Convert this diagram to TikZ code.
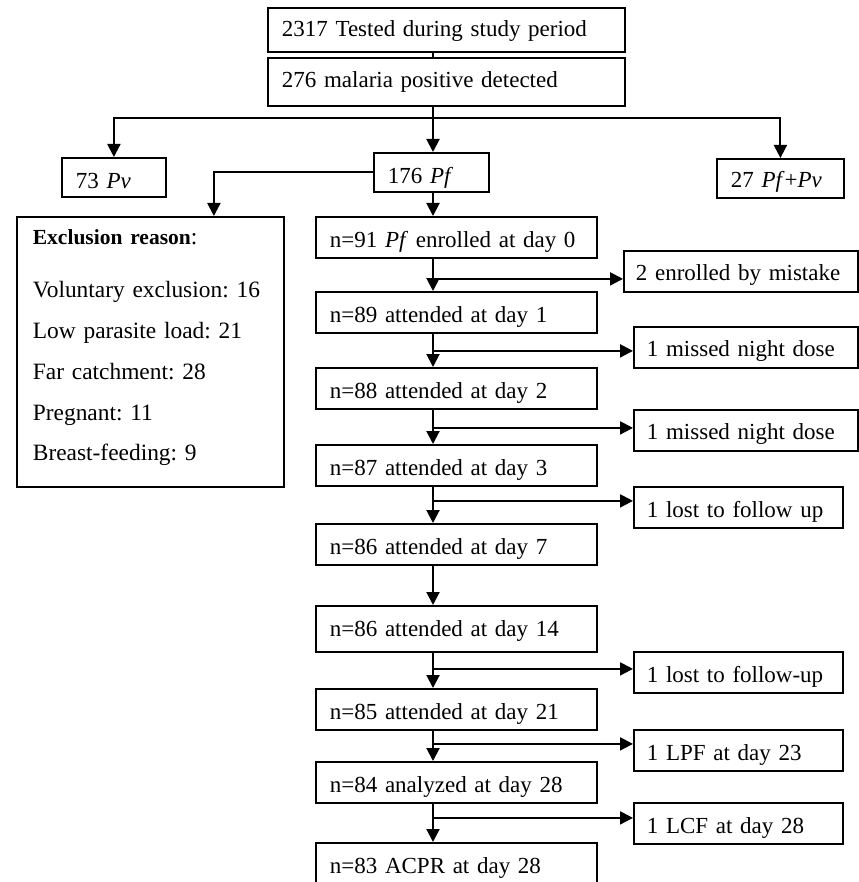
\documentclass[tikz,border=0pt]{standalone}
\usepackage{fontspec}
\setmainfont{Liberation Serif}
\usetikzlibrary{arrows.meta}
\frenchspacing

\begin{document}
\begin{tikzpicture}[x=1pt,y=-1pt,font=\fontsize{23}{28}\selectfont]

\tikzset{flowbox/.style={draw, line width=1.8pt, anchor=north west, align=left,
    inner xsep=14pt, inner ysep=0pt, text height=31pt, text depth=10pt},
  sidebox/.style={flowbox, inner xsep=13pt},
  flowline/.style={line width=2pt},
  flowarrow/.style={flowline, -{Triangle[length=13pt,width=13pt]}}}

\useasboundingbox (0,0) rectangle (858,882);

\node[flowbox, text width=329pt, text height=29pt, text depth=15pt] (tested) at (267,7) {2317 Tested during study period};
\node[flowbox, text width=329pt, text height=30pt, text depth=18pt] (pos) at (267,57) {276 malaria positive detected};
\node[flowbox, text width=76pt, text depth=8pt] (pv) at (61,157) {73 \textit{Pv}};
\node[flowbox, text width=87pt, text depth=8pt] (pf) at (373,152) {176 \textit{Pf}};
\node[flowbox, text width=99pt, text height=29pt] (pfpv) at (716,158) {27 \textit{Pf}+\textit{Pv}};

\node[flowbox, inner xsep=16pt, text width=235pt, text height=28pt, text depth=242pt,
  font=\fontsize{23.4}{40.7}\selectfont] (excl) at (16,216)
  {{\fontsize{21.5}{26}\selectfont\textbf{Exclusion reason}}:\\[12.3pt]
   Voluntary exclusion: 16\\
   Low parasite load: 21\\
   Far catchment: 28\\
   Pregnant: 11\\
   Breast-feeding: 9};

\node[flowbox, text width=253pt] (d0) at (315,216) {n=91 \textit{Pf} enrolled at day 0};
\node[flowbox, text width=253pt] (d1) at (315,291) {n=89 attended at day 1};
\node[flowbox, text width=253pt] (d2) at (315,367) {n=88 attended at day 2};
\node[flowbox, text width=253pt] (d3) at (315,444) {n=87 attended at day 3};
\node[flowbox, text width=253pt] (d7) at (315,523) {n=86 attended at day 7};
\node[flowbox, text width=253pt, text depth=15pt] (d14) at (315,605) {n=86 attended at day 14};
\node[flowbox, text width=253pt] (d21) at (315,688) {n=85 attended at day 21};
\node[flowbox, text width=253pt] (d28) at (315,761) {n=84 analyzed at day 28};
\node[flowbox, text width=253pt] (acpr) at (315,842) {n=83 ACPR at day 28};

\node[sidebox, inner xsep=12pt, text width=210pt, text height=30pt, text depth=11pt] (mistake) at (623,250) {2 enrolled by mistake};
\node[sidebox, text width=198pt, text height=30pt, text depth=11pt] (night1) at (633,326) {1 missed night dose};
\node[sidebox, text width=198pt, text height=30pt, text depth=11pt] (night2) at (633,409) {1 missed night dose};
\node[sidebox, text width=183pt] (lost1) at (633,486) {1 lost to follow up};
\node[sidebox, text width=183pt] (lost2) at (633,651) {1 lost to follow-up};
\node[sidebox, text width=183pt] (lpf) at (633,729) {1 LPF at day 23};
\node[sidebox, text width=183pt] (lcf) at (633,802) {1 LCF at day 28};

\coordinate (spine) at (433,0);
\coordinate (hub) at (433,118);

\draw[flowline] (tested.south -| spine) -- (pos.north -| spine);
\draw[flowarrow] (pos.south -| spine) -- (pf.north -| spine);
\draw[flowarrow] (hub) -| (pv.north);
\draw[flowarrow] (hub) -| (pfpv.north);
\draw[flowarrow] (pf.west) -| ([xshift=63.5pt]excl.north);
\draw[flowarrow] (pf.south -| spine) -- (d0.north -| spine);

\foreach \a/\b in {d0/d1,d1/d2,d2/d3,d3/d7,d7/d14,d14/d21,d21/d28,d28/acpr}
  \draw[flowarrow] (\a.south -| spine) -- (\b.north -| spine);

\foreach \s/\dy in {mistake/-7.5,night1/-3.5,night2/2.5,lost1/6.5,lost2/3.5,lpf/6.5,lcf/5.5}
  \draw[flowarrow] ([yshift=\dy pt]\s.west -| spine) -- ([yshift=\dy pt]\s.west);

\end{tikzpicture}
\end{document}
